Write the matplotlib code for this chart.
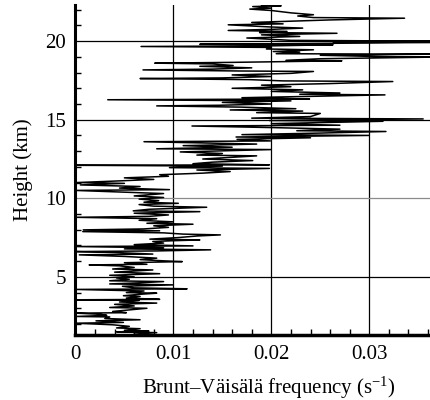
import matplotlib
matplotlib.use("Agg")
import matplotlib.pyplot as plt
from matplotlib.ticker import MultipleLocator, FixedLocator

plt.rcParams['font.family'] = ['Liberation Serif', 'DejaVu Serif']
plt.rcParams['mathtext.fontset'] = 'custom'
plt.rcParams['mathtext.rm'] = 'Liberation Serif'
plt.rcParams['mathtext.it'] = 'Liberation Serif'

# height of each sample (km) from bottom to top
height_km = [
    1.35, 1.45, 1.5, 1.55, 1.6, 1.7, 1.75, 1.85, 1.95, 2.05,
    2.1, 2.2, 2.27, 2.35, 2.45, 2.48, 2.55, 2.62, 2.69, 2.72,
    2.8, 2.9, 3.0, 3.05, 3.15, 3.25, 3.33, 3.4, 3.5, 3.54,
    3.57, 3.65, 3.75, 3.8, 3.9, 3.96, 4.0, 4.1, 4.2, 4.24,
    4.3, 4.4, 4.49, 4.55, 4.62, 4.7, 4.75, 4.85, 4.93, 5.0,
    5.1, 5.2, 5.3, 5.44, 5.5, 5.6, 5.7, 5.76, 5.8, 5.9,
    5.97, 6.02, 6.1, 6.19, 6.3, 6.4, 6.45, 6.55, 6.61, 6.65,
    6.72, 6.78, 6.85, 6.93, 6.97, 7.05, 7.15, 7.25, 7.3, 7.35,
    7.4, 7.5, 7.6, 7.67, 7.72, 7.8, 7.88, 7.93, 7.99, 8.05,
    8.15, 8.25, 8.35, 8.41, 8.5, 8.6, 8.7, 8.79, 8.85, 8.94,
    9.05, 9.15, 9.2, 9.3, 9.43, 9.5, 9.6, 9.68, 9.75, 9.85,
    9.95, 10.05, 10.15, 10.3, 10.5, 10.55, 10.65, 10.75, 10.85, 10.95,
    11.0, 11.1, 11.2, 11.3, 11.4, 11.5, 11.6, 11.7, 11.8, 11.9,
    11.95, 12.05, 12.1, 12.13, 12.2, 12.3, 12.4, 12.5, 12.7, 12.75,
    12.85, 12.95, 13.1, 13.15, 13.25, 13.35, 13.45, 13.6, 13.65, 13.75,
    13.85, 13.9, 14.0, 14.05, 14.15, 14.25, 14.3, 14.4, 14.5, 14.6,
    14.65, 14.75, 14.9, 14.95, 15.05, 15.1, 15.2, 15.4, 15.45, 15.55,
    15.62, 15.7, 15.8, 15.88, 15.92, 16.0, 16.1, 16.2, 16.27, 16.32,
    16.4, 16.5, 16.58, 16.62, 16.7, 16.8, 16.9, 17.0, 17.1, 17.2,
    17.3, 17.43, 17.47, 17.55, 17.62, 17.66, 17.75, 17.85, 17.95, 18.07,
    18.1, 18.17, 18.22, 18.3, 18.4, 18.45, 18.55, 18.6, 18.65, 18.75,
    18.78, 18.88, 18.98, 19.02, 19.1, 19.17, 19.2, 19.3, 19.34, 19.45,
    19.5, 19.6, 19.66, 19.7, 19.77, 19.8, 19.88, 19.92, 19.96, 20.0,
    20.05, 20.2, 20.3, 20.4, 20.5, 20.55, 20.62, 20.68, 20.75, 20.83,
    20.9, 21.04, 21.1, 21.19, 21.25, 21.35, 21.46, 21.5, 21.6, 21.68,
    21.8, 21.95, 22.04, 22.1, 22.2, 22.25, 22.3,
]

# Brunt-Vaisala frequency at each height, in units of 1e-3 s^-1
freq_milli = [
    6.0, 8.3, 4.2, 7.5, 5.0, 6.6, 4.2, 5.5, 3.8, 0.0,
    4.9, 2.1, 6.6, 3.0, 3.5, 0.1, 3.2, 2.5, 0.0, 5.2,
    3.8, 5.5, 7.3, 3.5, 6.0, 4.0, 8.3, 4.5, 6.5, 0.0,
    8.6, 5.2, 6.6, 4.9, 6.8, 8.3, 5.2, 7.0, 0.0, 11.4,
    6.0, 4.8, 10.0, 3.5, 6.5, 9.0, 3.5, 5.5, 4.2, 6.0,
    3.5, 8.6, 4.0, 7.9, 3.8, 6.0, 4.5, 1.4, 7.3, 5.0,
    10.9, 9.0, 6.6, 8.3, 5.0, 0.4, 7.9, 4.0, 0.0, 8.3,
    13.8, 5.0, 9.0, 0.0, 12.0, 6.0, 9.0, 7.9, 10.0, 12.7,
    7.6, 10.5, 12.4, 14.8, 11.0, 9.0, 0.75, 8.6, 0.8, 7.0,
    9.5, 8.0, 12.0, 7.3, 10.0, 6.5, 8.3, 0.0, 7.5, 9.5,
    6.0, 12.7, 5.9, 7.5, 13.4, 8.0, 6.5, 10.5, 7.0, 8.5,
    6.5, 9.0, 6.0, 9.0, 0.0, 9.6, 4.5, 6.6, 0.5, 5.0,
    0.1, 4.2, 8.0, 5.0, 9.5, 8.6, 13.0, 15.8, 12.4, 19.8,
    9.6, 15.0, 0.1, 19.8, 12.0, 14.0, 18.1, 13.0, 18.5, 12.4,
    15.0, 10.7, 20.0, 8.3, 16.0, 11.0, 18.5, 7.0, 19.9, 16.5,
    24.0, 16.4, 30.0, 17.0, 25.0, 31.7, 22.6, 27.0, 20.0, 11.9,
    27.0, 20.0, 31.4, 19.8, 35.5, 18.0, 24.0, 25.0, 18.5, 23.2,
    15.8, 22.5, 17.0, 8.3, 14.7, 20.0, 15.0, 22.0, 3.3, 23.9,
    17.0, 25.0, 31.6, 22.9, 27.0, 20.0, 23.2, 16.0, 22.0, 19.0,
    26.0, 32.4, 21.2, 17.8, 6.6, 15.0, 20.0, 16.0, 22.0, 24.3,
    16.8, 6.9, 14.0, 18.0, 12.7, 16.1, 14.0, 8.1, 16.1, 27.2,
    21.5, 25.0, 36.2, 31.0, 25.0, 36.2, 20.5, 22.9, 20.2, 24.3,
    19.5, 20.0, 6.7, 20.0, 26.3, 12.7, 30.0, 36.2, 26.3, 36.2,
    22.0, 17.5, 22.9, 19.0, 26.7, 18.8, 21.6, 15.6, 20.0, 23.2,
    20.0, 15.6, 21.2, 18.0, 21.0, 26.0, 33.6, 24.3, 22.7, 24.3,
    22.0, 20.0, 17.8, 20.0, 18.1, 21.0, 19.0,
]

x_ticks = [0, 0.01, 0.02, 0.03]
x_tick_labels = ['0', '0.01', '0.02', '0.03']
y_ticks = [5, 10, 15, 20]

freq = [v * 1e-3 for v in freq_milli]

fig = plt.figure(figsize=(4.31, 4.0), dpi=100)
ax = fig.add_axes([0.175, 0.1625, 0.825, 0.825])

# grid lines (the one at 10 km is lighter in the original)
for xv in x_ticks[1:]:
    ax.axvline(xv, color='black', lw=0.9, zorder=1)
for yv in y_ticks:
    ax.axhline(yv, color='0.55' if yv == 10 else 'black', lw=0.9, zorder=1)

ax.plot(freq, height_km, color='black', lw=1.1, zorder=2)

ax.set_xlim(0, 0.0363)
ax.set_ylim(1.3, 22.3)

ax.xaxis.set_major_locator(FixedLocator(x_ticks))
ax.set_xticklabels(x_tick_labels)
ax.xaxis.set_minor_locator(MultipleLocator(0.002))
ax.yaxis.set_major_locator(FixedLocator(y_ticks))
ax.yaxis.set_minor_locator(MultipleLocator(1))

ax.tick_params(which='both', direction='in', labelsize=15, top=False, right=False)
ax.tick_params(which='major', length=0, pad=7)
ax.tick_params(which='minor', length=4, width=1)

for side in ['top', 'right']:
    ax.spines[side].set_visible(False)
ax.spines['left'].set_linewidth(2.2)
ax.spines['bottom'].set_linewidth(2.5)

ax.set_ylabel('Height (km)', fontsize=15)
ax.yaxis.set_label_coords(-0.12, 0.5)
ax.set_xlabel('Brunt\u2013V\u00e4is\u00e4l\u00e4 frequency (s$^{-1}$)', fontsize=15)
ax.xaxis.set_label_coords(0.544, -0.12)

fig.savefig('out.png', dpi=100)
